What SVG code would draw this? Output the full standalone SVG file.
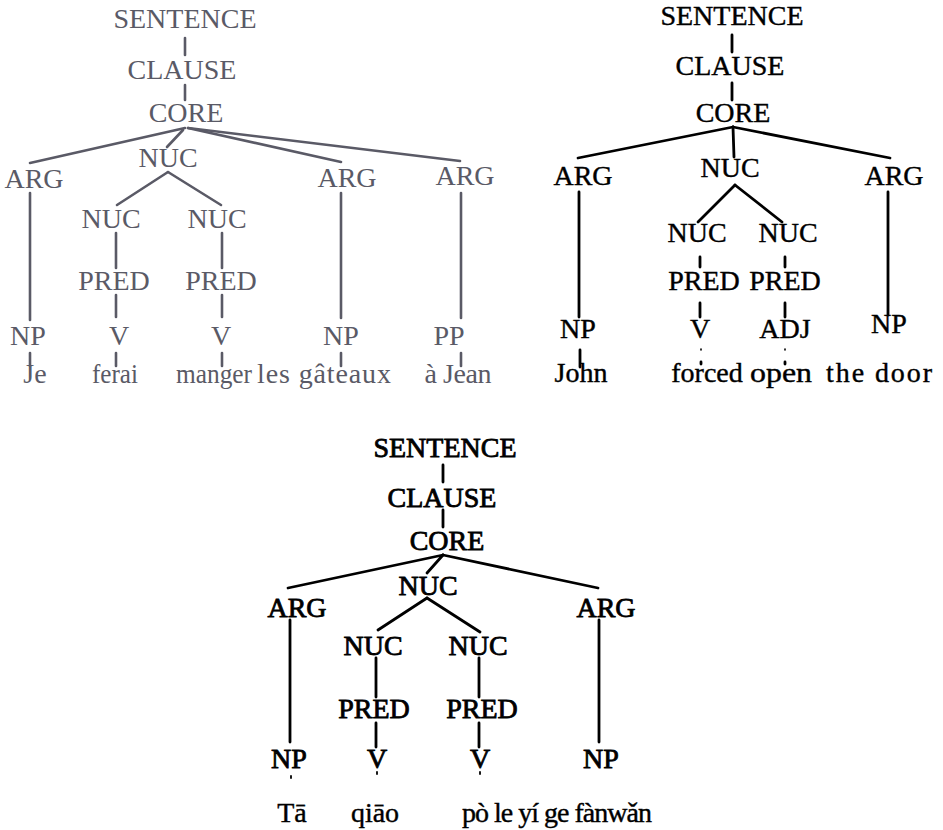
<svg xmlns="http://www.w3.org/2000/svg" width="943" height="830" viewBox="0 0 943 830">
<defs>
<style>
.g text{fill:#5a5a66}
.k text{fill:#000;stroke:#000;stroke-width:0.4}
.b text{fill:#000;stroke:#000;stroke-width:0.8}
.gl line{stroke:#5a5a66;stroke-width:2.6;stroke-linecap:round}
.kl line{stroke:#000;stroke-width:2.8;stroke-linecap:round}
</style>
</defs>
<rect width="943" height="830" fill="#fff"/>

<!-- Tree 1 (French) -->
<g class="gl" id="t1-connectors">
<line x1="185" y1="38" x2="185" y2="55"/>
<line x1="185" y1="85" x2="185" y2="100"/>
<line x1="185" y1="128" x2="30" y2="163"/>
<line x1="183" y1="130" x2="167" y2="147"/>
<line x1="188" y1="128" x2="341" y2="162"/>
<line x1="188" y1="128" x2="460" y2="161"/>
<line x1="168" y1="172" x2="117" y2="205"/>
<line x1="168" y1="172" x2="221" y2="205"/>
<line x1="30" y1="193" x2="30" y2="320"/>
<line x1="341" y1="193" x2="341" y2="318"/>
<line x1="461" y1="193" x2="461" y2="318"/>
<line x1="116" y1="233" x2="116" y2="268"/>
<line x1="222" y1="233" x2="222" y2="268"/>
<line x1="116" y1="295" x2="116" y2="317"/>
<line x1="222" y1="295" x2="222" y2="317"/>
<line x1="30" y1="353" x2="30" y2="366"/>
<line x1="116" y1="353" x2="116" y2="366"/>
<line x1="222" y1="353" x2="222" y2="366"/>
<line x1="341" y1="353" x2="341" y2="366"/>
<line x1="461" y1="353" x2="461" y2="366"/>
</g>
<g class="g" font-family="Liberation Serif, Times New Roman, serif" font-size="28" text-anchor="middle">
<g id="t1-sentence"><text x="185" y="28">SENTENCE</text></g>
<g id="t1-clause"><text x="182" y="79">CLAUSE</text></g>
<g id="t1-core"><text x="186" y="122">CORE</text></g>
<g id="t1-arg1"><text x="34" y="188">ARG</text></g>
<g id="t1-nuc"><text x="168" y="167">NUC</text></g>
<g id="t1-arg2"><text x="347" y="187">ARG</text></g>
<g id="t1-arg3"><text x="465" y="185">ARG</text></g>
<g id="t1-nuc1"><text x="111" y="228">NUC</text></g>
<g id="t1-nuc2"><text x="217" y="228">NUC</text></g>
<g id="t1-pred1"><text x="114" y="290">PRED</text></g>
<g id="t1-pred2"><text x="221" y="290">PRED</text></g>
<g id="t1-np1"><text x="28" y="345">NP</text></g>
<g id="t1-v1"><text x="119" y="345">V</text></g>
<g id="t1-v2"><text x="221" y="345">V</text></g>
<g id="t1-np2"><text x="341" y="345">NP</text></g>
<g id="t1-pp"><text x="449" y="345">PP</text></g>
<g id="t1-words">
<text x="35" y="383">Je</text>
<text x="115" y="383" textLength="46" lengthAdjust="spacingAndGlyphs">ferai</text>
<text x="214" y="383" textLength="76" lengthAdjust="spacingAndGlyphs">manger</text>
<text x="324" y="383" textLength="134">les g&#226;teaux</text>
<text x="458" y="383" textLength="67">&#224; Jean</text>
</g>
</g>

<!-- Tree 2 (English) -->
<g class="kl" id="t2-connectors">
<line x1="732" y1="35" x2="732" y2="52"/>
<line x1="732" y1="83" x2="732" y2="100"/>
<line x1="733" y1="127" x2="578" y2="158"/>
<line x1="733" y1="127" x2="734" y2="157"/>
<line x1="733" y1="127" x2="890" y2="158"/>
<line x1="735" y1="185" x2="698" y2="222"/>
<line x1="735" y1="185" x2="782" y2="222"/>
<line x1="579" y1="192" x2="579" y2="317"/>
<line x1="888" y1="192" x2="888" y2="315"/>
<line x1="700" y1="257" x2="700" y2="267"/>
<line x1="785" y1="257" x2="785" y2="267"/>
<line x1="700" y1="303" x2="700" y2="317"/>
<line x1="785" y1="303" x2="785" y2="317"/>
<line x1="580" y1="350" x2="580" y2="367"/>
<line x1="701" y1="349" x2="701" y2="350" style="stroke-width:1.6"/>
<line x1="701" y1="362" x2="701" y2="364"/>
<line x1="785" y1="349" x2="785" y2="350" style="stroke-width:1.6"/>
<line x1="785" y1="362" x2="785" y2="364"/>
</g>
<g class="k" font-family="Liberation Serif, Times New Roman, serif" font-size="28" text-anchor="middle">
<g id="t2-sentence"><text x="732" y="25">SENTENCE</text></g>
<g id="t2-clause"><text x="730" y="75">CLAUSE</text></g>
<g id="t2-core"><text x="733" y="122">CORE</text></g>
<g id="t2-arg1"><text x="583" y="185">ARG</text></g>
<g id="t2-nuc"><text x="730" y="177">NUC</text></g>
<g id="t2-arg2"><text x="894" y="185">ARG</text></g>
<g id="t2-nuc1"><text x="697" y="242">NUC</text></g>
<g id="t2-nuc2"><text x="788" y="242">NUC</text></g>
<g id="t2-pred1"><text x="704" y="290">PRED</text></g>
<g id="t2-pred2"><text x="785" y="290">PRED</text></g>
<g id="t2-np1"><text x="578" y="338">NP</text></g>
<g id="t2-v"><text x="700" y="338">V</text></g>
<g id="t2-adj"><text x="785" y="338">ADJ</text></g>
<g id="t2-np2"><text x="889" y="333">NP</text></g>
<g id="t2-words">
<text x="581" y="382">John</text>
<text x="707" y="382">forced</text>
<text x="781" y="382" textLength="62" lengthAdjust="spacingAndGlyphs">open</text>
<text x="879" y="382" textLength="106">the door</text>
</g>
</g>

<!-- Tree 3 (Chinese) -->
<g class="kl" id="t3-connectors">
<line x1="443" y1="465" x2="443" y2="482"/>
<line x1="443" y1="510" x2="443" y2="527"/>
<line x1="443" y1="555" x2="288" y2="588"/>
<line x1="443" y1="555" x2="427" y2="573"/>
<line x1="443" y1="555" x2="598" y2="588"/>
<line x1="427" y1="598" x2="378" y2="630"/>
<line x1="427" y1="598" x2="480" y2="632"/>
<line x1="290" y1="620" x2="290" y2="742"/>
<line x1="599" y1="620" x2="599" y2="742"/>
<line x1="376" y1="658" x2="376" y2="697"/>
<line x1="479" y1="658" x2="479" y2="697"/>
<line x1="376" y1="723" x2="376" y2="747"/>
<line x1="479" y1="723" x2="479" y2="747"/>
<line x1="291" y1="776" x2="291" y2="778" style="stroke-width:1.8"/>
<line x1="377" y1="772" x2="377" y2="774" style="stroke-width:1.8"/>
<line x1="480" y1="772" x2="480" y2="774" style="stroke-width:1.8"/>
</g>
<g class="b" font-family="Liberation Serif, Times New Roman, serif" font-size="28" text-anchor="middle">
<g id="t3-sentence"><text x="445" y="457">SENTENCE</text></g>
<g id="t3-clause"><text x="442" y="507">CLAUSE</text></g>
<g id="t3-core"><text x="447" y="550">CORE</text></g>
<g id="t3-arg1"><text x="297" y="617">ARG</text></g>
<g id="t3-nuc"><text x="428" y="595">NUC</text></g>
<g id="t3-arg2"><text x="606" y="617">ARG</text></g>
<g id="t3-nuc1"><text x="373" y="655">NUC</text></g>
<g id="t3-nuc2"><text x="478" y="655">NUC</text></g>
<g id="t3-pred1"><text x="374" y="718">PRED</text></g>
<g id="t3-pred2"><text x="482" y="718">PRED</text></g>
<g id="t3-np1"><text x="289" y="768">NP</text></g>
<g id="t3-v1"><text x="377" y="768">V</text></g>
<g id="t3-v2"><text x="480" y="768">V</text></g>
<g id="t3-np2"><text x="601" y="768">NP</text></g>
</g>
<g class="k" id="t3-words" font-family="Liberation Serif, Times New Roman, serif" font-size="28">
<text x="292" y="822" text-anchor="middle">T&#257;</text>
<text x="375" y="822" text-anchor="middle">qi&#257;o</text>
<text x="462" y="822" textLength="190">p&#242; le y&#237; ge f&#224;nw&#462;n</text>
</g>
</svg>
